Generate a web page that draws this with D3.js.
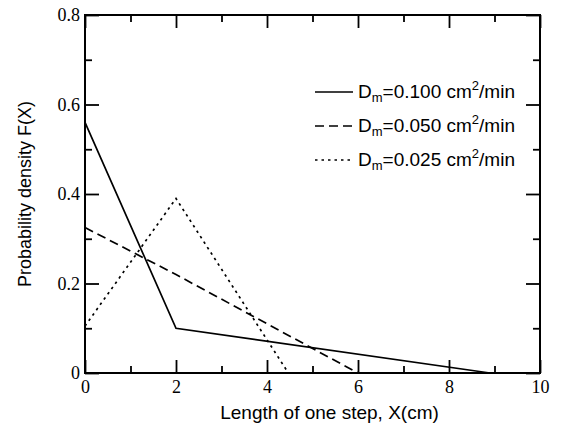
<!DOCTYPE html>
<html>
<head>
<meta charset="utf-8">
<script src="https://cdn.jsdelivr.net/npm/d3@7"></script>
<style>
  body { margin: 0; background: #fff; }
</style>
</head>
<body>
<script>
// data
const xSolid = [0, 2, 8.9];
const ySolid = [0.56, 0.1, 0];
const xDashed = [0, 2, 4, 6];
const yDashed = [0.325, 0.22, 0.11, 0];
const xDotted = [0, 2, 4.47];
const yDotted = [0.105, 0.39, 0];
const legendLabels = ["0.100", "0.050", "0.025"];
const xTicks = [0, 2, 4, 6, 8, 10];
const yTicks = [0, 0.2, 0.4, 0.6, 0.8];

const WIDTH = 563, HEIGHT = 428;
const margin = { left: 85, right: 23, top: 15, bottom: 55 };
const SANS = '"Liberation Sans", Arial, sans-serif';
const SERIF = '"Liberation Serif", "Times New Roman", serif';

const svg = d3.select('body').append('svg')
  .attr('width', WIDTH)
  .attr('height', HEIGHT);

const x = d3.scaleLinear().domain([0, 10]).range([margin.left, WIDTH - margin.right]);
const y = d3.scaleLinear().domain([0, 0.8]).range([HEIGHT - margin.bottom, margin.top]);

const minorX = d3.range(1, 10, 2);
const minorY = [0.1, 0.3, 0.5, 0.7];

function fmtY(d) { return d === 0 ? '0' : d3.format('.1f')(d); }

// axes, ticks pointing inward on all four sides
svg.append('g').attr('transform', `translate(0,${y(0)})`)
  .call(d3.axisBottom(x).tickValues(xTicks).tickSize(-13).tickPadding(7).tickFormat(d3.format('d')));
svg.append('g').attr('transform', `translate(0,${y(0)})`)
  .call(d3.axisBottom(x).tickValues(minorX).tickSize(-7).tickFormat(''));
svg.append('g').attr('transform', `translate(0,${y(0.8)})`)
  .call(d3.axisTop(x).tickValues(xTicks).tickSize(-13).tickFormat(''));
svg.append('g').attr('transform', `translate(0,${y(0.8)})`)
  .call(d3.axisTop(x).tickValues(minorX).tickSize(-7).tickFormat(''));

svg.append('g').attr('transform', `translate(${x(0)},0)`)
  .call(d3.axisLeft(y).tickValues(yTicks).tickSize(-14).tickPadding(5).tickFormat(fmtY));
svg.append('g').attr('transform', `translate(${x(0)},0)`)
  .call(d3.axisLeft(y).tickValues(minorY).tickSize(-7).tickFormat(''));
svg.append('g').attr('transform', `translate(${x(10)},0)`)
  .call(d3.axisRight(y).tickValues(yTicks).tickSize(-14).tickFormat(''));
svg.append('g').attr('transform', `translate(${x(10)},0)`)
  .call(d3.axisRight(y).tickValues(minorY).tickSize(-7).tickFormat(''));

svg.selectAll('.domain').remove();
svg.selectAll('.tick line').attr('stroke', '#000').attr('stroke-width', 1.8);
svg.selectAll('.tick text')
  .style('font-family', SERIF)
  .style('font-size', '18px')
  .attr('fill', '#000');

// frame
svg.append('rect')
  .attr('x', x(0)).attr('y', y(0.8))
  .attr('width', x(10) - x(0)).attr('height', y(0) - y(0.8))
  .attr('fill', 'none').attr('stroke', '#000').attr('stroke-width', 2);

// series
const line = d3.line().x(d => x(d[0])).y(d => y(d[1]));
const series = [
  { xs: xSolid, ys: ySolid, dash: null },
  { xs: xDashed, ys: yDashed, dash: '9,5' },
  { xs: xDotted, ys: yDotted, dash: '2.5,4' }
];
series.forEach(s => {
  svg.append('path')
    .datum(s.xs.map((v, i) => [v, s.ys[i]]))
    .attr('d', line)
    .attr('fill', 'none')
    .attr('stroke', '#000')
    .attr('stroke-width', 1.7)
    .attr('stroke-dasharray', s.dash);
});

// legend
const leg = svg.append('g').attr('font-family', SANS).attr('font-size', 19);
series.forEach((s, i) => {
  const ly = 92 + i * 34;
  leg.append('line')
    .attr('x1', 315).attr('x2', 353).attr('y1', ly).attr('y2', ly)
    .attr('stroke', '#000').attr('stroke-width', 1.7)
    .attr('stroke-dasharray', s.dash);
  const t = leg.append('text').attr('x', 358).attr('y', ly + 6);
  t.append('tspan').text('D');
  t.append('tspan').attr('font-size', 13).attr('dy', 4).text('m');
  t.append('tspan').attr('dy', -4).text('=' + legendLabels[i] + ' cm');
  t.append('tspan').attr('font-size', 13).attr('dy', -8).text('2');
  t.append('tspan').attr('dy', 8).text('/min');
});

// axis labels
svg.append('text')
  .attr('x', (x(0) + x(10)) / 2 + 17).attr('y', 419)
  .attr('text-anchor', 'middle')
  .attr('font-family', SANS)
  .attr('font-size', 19)
  .text('Length of one step, X(cm)');

svg.append('text')
  .attr('transform', `translate(31,${(y(0) + y(0.8)) / 2}) rotate(-90)`)
  .attr('text-anchor', 'middle')
  .attr('font-family', SANS)
  .attr('font-size', 18)
  .text('Probability density F(X)');
</script>
</body>
</html>
